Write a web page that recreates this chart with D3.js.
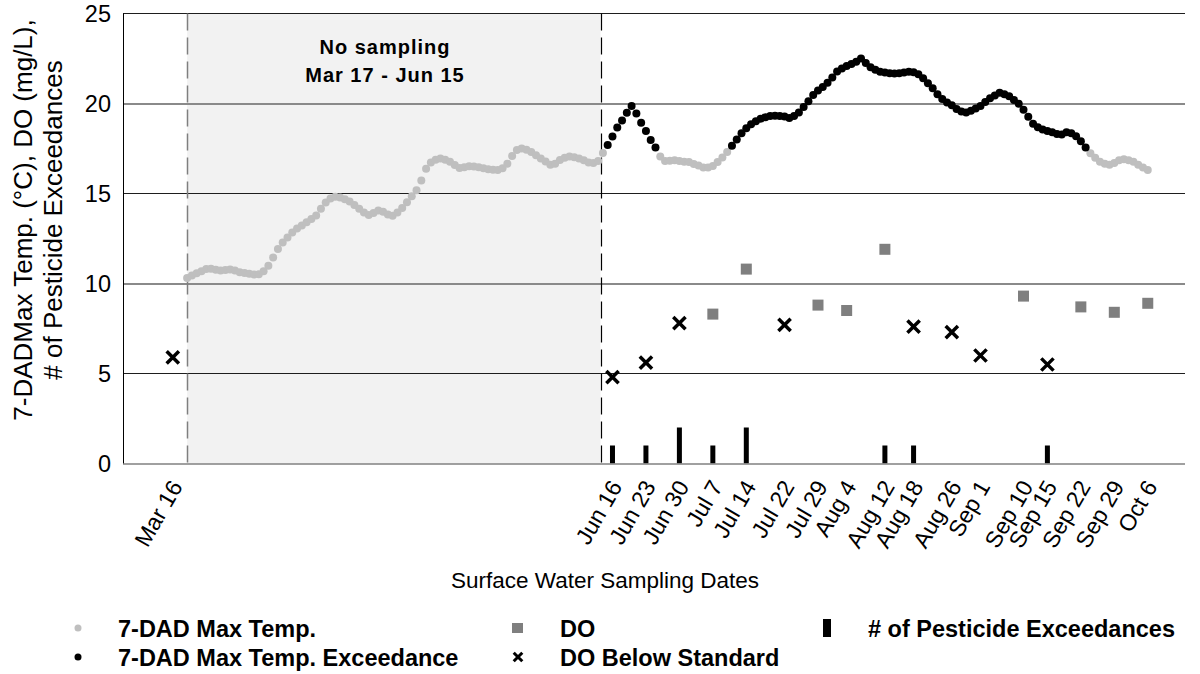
<!DOCTYPE html>
<html>
<head>
<meta charset="utf-8">
<script src="https://cdn.jsdelivr.net/npm/d3@7"></script>
<style>
  body { margin: 0; background: #fff; }
  svg { display: block; font-family: "Liberation Sans", Arial, sans-serif; }
</style>
</head>
<body>
<script>
// Surface water sampling dates shown on the x axis
const sampleDates = ["Mar 16", "Jun 16", "Jun 23", "Jun 30", "Jul 7", "Jul 14", "Jul 22", "Jul 29",
  "Aug 4", "Aug 12", "Aug 18", "Aug 26", "Sep 1", "Sep 10", "Sep 15", "Sep 22", "Sep 29", "Oct 6"];

// Dissolved oxygen (mg/L) meeting the standard
const doDates = ["Jul 7", "Jul 14", "Jul 29", "Aug 4", "Aug 12", "Sep 10", "Sep 22", "Sep 29", "Oct 6"];
const doValues = [8.3, 10.8, 8.8, 8.5, 11.9, 9.3, 8.7, 8.4, 8.9];

// Dissolved oxygen (mg/L) below the standard
const doLowDates = ["Mar 16", "Jun 16", "Jun 23", "Jun 30", "Jul 22", "Aug 18", "Aug 26", "Sep 1", "Sep 15"];
const doLowValues = [5.9, 4.8, 5.6, 7.8, 7.7, 7.6, 7.3, 6.0, 5.5];

// Number of pesticide exceedances per sampling event
const pestDates = ["Jun 16", "Jun 23", "Jun 30", "Jul 7", "Jul 14", "Aug 12", "Aug 18", "Sep 15"];
const pestCounts = [1, 1, 2, 1, 2, 1, 1, 1];

// Daily 7-day average of daily maximum water temperature (°C), from Mar 19 to Oct 6
const tempStart = "Mar 19";
const tempValues = [
  10.30, 10.45, 10.57, 10.68, 10.80, 10.82, 10.76, 10.72, 10.75, 10.78,
  10.72, 10.63, 10.58, 10.54, 10.50, 10.52, 10.68, 10.98, 11.45, 11.92,
  12.28, 12.55, 12.83, 13.05, 13.22, 13.40, 13.58, 13.78, 14.15, 14.50,
  14.72, 14.82, 14.78, 14.68, 14.55, 14.36, 14.15, 13.95, 13.80, 13.92,
  14.06, 13.98, 13.83, 13.76, 13.95, 14.20, 14.52, 14.85, 15.18, 15.72,
  16.38, 16.72, 16.88, 16.95, 16.88, 16.77, 16.58, 16.42, 16.46, 16.52,
  16.50, 16.46, 16.40, 16.35, 16.32, 16.30, 16.40, 16.65, 17.08, 17.42,
  17.50, 17.43, 17.30, 17.12, 16.95, 16.78, 16.60, 16.65, 16.86, 16.98,
  17.05, 17.02, 16.95, 16.85, 16.72, 16.70, 16.80, 17.25, 17.69, 18.16,
  18.66, 19.05, 19.49, 19.86, 19.45, 18.93, 18.47, 17.97, 17.56, 17.05,
  16.80, 16.82, 16.85, 16.80, 16.76, 16.75, 16.64, 16.55, 16.45, 16.45,
  16.53, 16.75, 17.00, 17.30, 17.65, 18.00, 18.35, 18.62, 18.85, 19.02,
  19.15, 19.24, 19.30, 19.32, 19.31, 19.28, 19.20, 19.30, 19.50, 19.80,
  20.12, 20.47, 20.72, 20.92, 21.15, 21.45, 21.78, 21.95, 22.08, 22.20,
  22.32, 22.50, 22.25, 22.02, 21.88, 21.77, 21.72, 21.68, 21.67, 21.68,
  21.72, 21.77, 21.73, 21.62, 21.40, 21.13, 20.85, 20.52, 20.25, 20.05,
  19.90, 19.70, 19.55, 19.50, 19.60, 19.72, 19.86, 20.08, 20.29, 20.45,
  20.60, 20.52, 20.40, 20.20, 19.98, 19.65, 19.27, 18.88, 18.68, 18.56,
  18.47, 18.40, 18.30, 18.28, 18.40, 18.35, 18.18, 17.90, 17.56, 17.23,
  16.98, 16.77, 16.65, 16.60, 16.70, 16.85, 16.90, 16.85, 16.77, 16.60,
  16.45, 16.30
];

// Periods when the temperature exceeds the standard
const exceedPeriods = [["Jun 15", "Jun 25"], ["Jul 11", "Sep 23"]];

// Period with no sampling (shaded)
const noSampling = ["2021-03-19T00:00Z", "2021-06-13T12:00Z"];

const yTicks = [0, 5, 10, 15, 20, 25];

const W = 1200, H = 674;
const plot = { left: 123, right: 1185, top: 13.5, bottom: 463.5 };
const FONT = '"Liberation Sans", Arial, sans-serif';

const parseDay = s => d3.utcParse("%b %d %Y")(s + " 2021");

const x = d3.scaleUtc()
  .domain([new Date(Date.UTC(2021, 2, 5, 14)), new Date(Date.UTC(2021, 9, 13, 19))])
  .range([plot.left, plot.right]);
const y = d3.scaleLinear().domain([0, 25]).range([plot.bottom, plot.top]);

const svg = d3.select("body").append("svg").attr("width", W).attr("height", H);

// Shaded no-sampling window
const ns = noSampling.map(s => new Date(s));
svg.append("rect")
  .attr("x", x(ns[0])).attr("y", plot.top)
  .attr("width", x(ns[1]) - x(ns[0])).attr("height", plot.bottom - plot.top)
  .attr("fill", "#f2f2f2");

// Horizontal gridlines (alternate weight)
svg.append("g").selectAll("line")
  .data(yTicks.filter(v => v > 0))
  .join("line")
  .attr("x1", plot.left).attr("x2", plot.right)
  .attr("y1", d => y(d) + (d % 10 === 0 ? 0.5 : 0))
  .attr("y2", d => y(d) + (d % 10 === 0 ? 0.5 : 0))
  .attr("stroke", d => d % 10 === 0 ? "#8a8a8a" : "#1e1e1e")
  .attr("stroke-width", d => d % 10 === 0 ? 2 : 1);

// Dashed boundaries of the no-sampling window
svg.append("line")
  .attr("x1", Math.round(x(ns[0])) + 0.5).attr("x2", Math.round(x(ns[0])) + 0.5)
  .attr("y1", plot.top).attr("y2", plot.bottom)
  .attr("stroke", "#7f7f7f").attr("stroke-width", 1.5).attr("stroke-dasharray", "17,7");
svg.append("line")
  .attr("x1", Math.round(x(ns[1])) + 0.5).attr("x2", Math.round(x(ns[1])) + 0.5)
  .attr("y1", plot.top).attr("y2", plot.bottom)
  .attr("stroke", "#000").attr("stroke-width", 1.2).attr("stroke-dasharray", "17,7");

// Axes
const yAxis = d3.axisLeft(y).tickValues(yTicks).tickSize(0).tickPadding(12);
const gy = svg.append("g").attr("transform", `translate(${plot.left},0)`).call(yAxis);
gy.select(".domain").remove();
gy.selectAll("text").attr("font-size", 23.5).attr("font-family", FONT).attr("fill", "#000");
svg.append("line")
  .attr("x1", plot.left + 0.5).attr("x2", plot.left + 0.5)
  .attr("y1", plot.top).attr("y2", plot.bottom + 0.5)
  .attr("stroke", "#000").attr("stroke-width", 1);

const xAxis = d3.axisBottom(x)
  .tickValues(sampleDates.map(parseDay))
  .tickFormat(d3.utcFormat("%b %-d"))
  .tickSize(0);
const gx = svg.append("g").attr("transform", `translate(0,${plot.bottom})`).call(xAxis);
gx.select(".domain").remove();
gx.selectAll("text")
  .attr("x", 0).attr("y", 0).attr("dy", 0)
  .attr("transform", "translate(10,23) rotate(-60)")
  .style("text-anchor", "end")
  .attr("font-size", 23).attr("font-family", FONT).attr("fill", "#000");

// Pesticide exceedance bars
const barW = 5;
svg.append("g").selectAll("rect")
  .data(pestDates.map((d, i) => ({ date: parseDay(d), v: pestCounts[i] })))
  .join("rect")
  .attr("x", d => x(d.date) - barW / 2)
  .attr("y", d => y(d.v))
  .attr("width", barW)
  .attr("height", d => y(0) - y(d.v))
  .attr("fill", "#000");

// Bottom axis line
svg.append("line")
  .attr("x1", plot.left).attr("x2", plot.right)
  .attr("y1", plot.bottom + 0.5).attr("y2", plot.bottom + 0.5)
  .attr("stroke", "#808080").attr("stroke-width", 1.5);

// Temperature points
const t0 = parseDay(tempStart);
const periods = exceedPeriods.map(p => p.map(parseDay));
const temps = tempValues.map((v, i) => {
  const date = d3.utcDay.offset(t0, i);
  const exceed = periods.some(([a, b]) => date >= a && date <= b);
  return { date, v, exceed };
});
svg.append("g").selectAll("circle")
  .data(temps.filter(d => !d.exceed))
  .join("circle")
  .attr("cx", d => x(d.date)).attr("cy", d => y(d.v)).attr("r", 4)
  .attr("fill", "#bfbfbf");
svg.append("g").selectAll("circle")
  .data(temps.filter(d => d.exceed))
  .join("circle")
  .attr("cx", d => x(d.date)).attr("cy", d => y(d.v)).attr("r", 4)
  .attr("fill", "#000");

// DO squares
const sq = 11;
svg.append("g").selectAll("rect")
  .data(doDates.map((d, i) => ({ date: parseDay(d), v: doValues[i] })))
  .join("rect")
  .attr("x", d => x(d.date) - sq / 2).attr("y", d => y(d.v) - sq / 2)
  .attr("width", sq).attr("height", sq)
  .attr("fill", "#7f7f7f");

// DO below standard crosses
const cross = d3.symbol().type(d3.symbolTimes).size(100);
svg.append("g").selectAll("path")
  .data(doLowDates.map((d, i) => ({ date: parseDay(d), v: doLowValues[i] })))
  .join("path")
  .attr("transform", d => `translate(${x(d.date)},${y(d.v)})`)
  .attr("d", cross)
  .attr("fill", "none").attr("stroke", "#000").attr("stroke-width", 3.5);

// No-sampling annotation
const nsMid = 385;
svg.append("text").attr("x", nsMid).attr("y", 54)
  .attr("text-anchor", "middle").attr("font-size", 20).attr("font-weight", "bold")
  .attr("letter-spacing", 1).attr("font-family", FONT)
  .text("No sampling");
svg.append("text").attr("x", nsMid).attr("y", 82)
  .attr("text-anchor", "middle").attr("font-size", 20).attr("font-weight", "bold")
  .attr("letter-spacing", 1).attr("font-family", FONT)
  .text("Mar 17 - Jun 15");

// Axis titles
svg.append("text")
  .attr("x", 605).attr("y", 588)
  .attr("text-anchor", "middle").attr("font-size", 22.5).attr("font-family", FONT)
  .text("Surface Water Sampling Dates");
const yTitle = svg.append("text")
  .attr("transform", "translate(0,220) rotate(-90)")
  .attr("text-anchor", "middle").attr("font-size", 26).attr("font-family", FONT);
yTitle.append("tspan").attr("x", 0).attr("y", 32).text("7-DADMax Temp. (°C), DO (mg/L),");
yTitle.append("tspan").attr("x", 0).attr("y", 62).text("# of Pesticide Exceedances");

// Legend
const lg = svg.append("g").attr("font-family", FONT).attr("font-size", 23.5).attr("font-weight", "bold");
const row1 = 628, row2 = 657;
lg.append("circle").attr("cx", 78).attr("cy", row1).attr("r", 3.5).attr("fill", "#bfbfbf");
lg.append("circle").attr("cx", 78).attr("cy", row2).attr("r", 3.5).attr("fill", "#000");
lg.append("rect").attr("x", 512).attr("y", row1 - 5).attr("width", 11).attr("height", 10).attr("fill", "#7f7f7f");
lg.append("path").attr("transform", `translate(518,${row2})`)
  .attr("d", d3.symbol().type(d3.symbolTimes).size(50))
  .attr("fill", "none").attr("stroke", "#000").attr("stroke-width", 3);
lg.append("rect").attr("x", 823).attr("y", row1 - 9).attr("width", 8).attr("height", 18).attr("fill", "#000");
const legendText = [
  { x: 118, y: row1, t: "7-DAD Max Temp." },
  { x: 118, y: row2, t: "7-DAD Max Temp. Exceedance" },
  { x: 560, y: row1, t: "DO" },
  { x: 560, y: row2, t: "DO Below Standard" },
  { x: 868, y: row1, t: "# of Pesticide Exceedances" }
];
lg.selectAll("text.lt").data(legendText).join("text")
  .attr("class", "lt")
  .attr("x", d => d.x).attr("y", d => d.y + 8.5)
  .text(d => d.t);
</script>
</body>
</html>
